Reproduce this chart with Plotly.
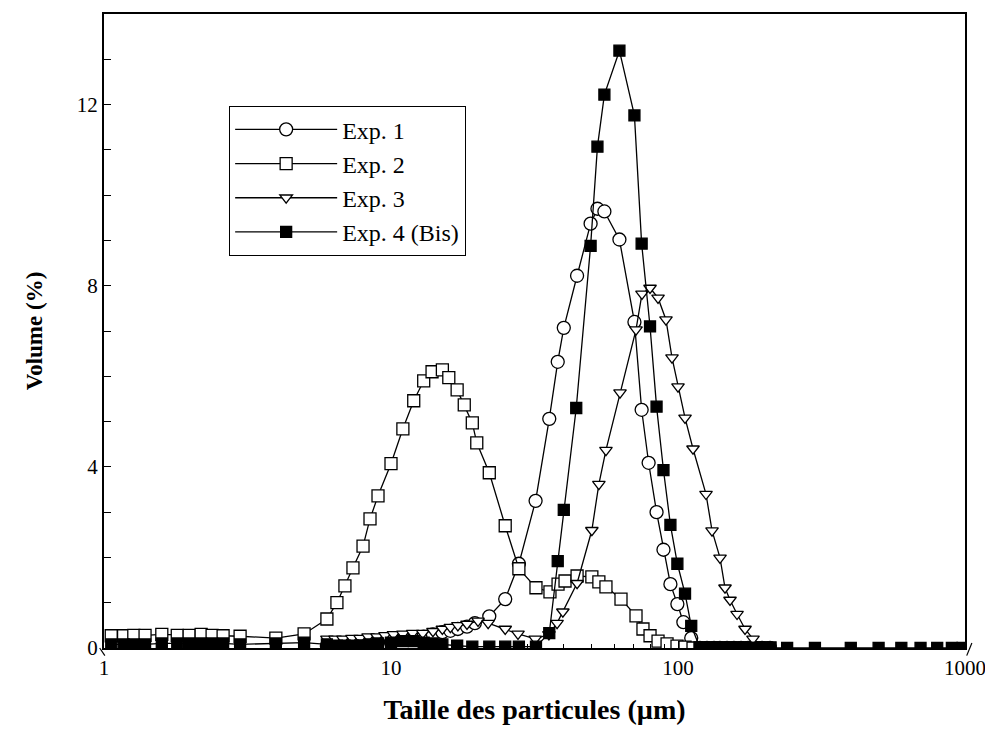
import plotly.graph_objects as go

# particle size (um) and volume (%)
exp1_x = [5.98, 6.48, 6.91, 7.37, 7.99, 8.45, 9.01, 10.0, 11.0, 12.0, 13.0, 14.0, 15.1, 16.1, 17.1,
          18.4, 19.6, 22.0, 25.0, 27.9, 31.9, 35.6, 38.1, 40.0, 44.5, 49.6, 52.4, 55.4, 62.5,
          70.5, 74.7, 79.0, 84.2, 89.0, 94.1, 99.5, 104.4, 111.2, 119.3, 126.2, 133.5, 140.0,
          148.2, 156.7, 165.8, 175.4, 185.5, 196.2, 209.3]
exp1_y = [0.05, 0.05, 0.07, 0.08, 0.10, 0.10, 0.12, 0.15, 0.18, 0.22, 0.25, 0.30, 0.35, 0.38, 0.42,
          0.47, 0.55, 0.70, 1.08, 1.86, 3.25, 5.06, 6.32, 7.07, 8.22, 9.37, 9.70, 9.64, 9.02,
          7.20, 5.26, 4.09, 3.00, 2.17, 1.41, 0.97, 0.57, 0.22, 0, 0, 0, 0,
          0, 0, 0, 0, 0, 0, 0]

exp2_x = [1.06, 1.17, 1.27, 1.39, 1.59, 1.80, 1.98, 2.18, 2.38, 2.60, 2.98, 3.97, 4.98, 5.98,
          6.48, 6.91, 7.37, 7.99, 8.45, 9.01, 10.0, 11.0, 12.0, 13.0, 13.9, 15.1, 15.9, 17.0,
          18.0, 19.2, 19.9, 22.0, 25.0, 27.9, 32.0, 35.8, 38.2, 40.4, 44.5, 50.1, 53.0, 56.1,
          63.3, 71.4, 75.5, 79.9, 85.2, 91.6, 99.2, 105.8, 112.8, 119.3, 126.2, 133.5, 140.0,
          148.2, 156.7, 165.8, 175.4, 185.5, 196.2, 209.3]
exp2_y = [0.27, 0.27, 0.28, 0.28, 0.30, 0.28, 0.28, 0.30, 0.28, 0.27, 0.26, 0.22, 0.31, 0.64,
          1.00, 1.37, 1.77, 2.25, 2.85, 3.36, 4.07, 4.84, 5.46, 5.90, 6.10, 6.14, 5.97, 5.70,
          5.37, 4.97, 4.53, 3.87, 2.70, 1.75, 1.33, 1.24, 1.41, 1.48, 1.59, 1.57, 1.46, 1.35,
          1.08, 0.71, 0.42, 0.27, 0.15, 0.09, 0.04, 0.02, 0, 0, 0, 0, 0,
          0, 0, 0, 0, 0, 0, 0]

exp3_x = [5.98, 6.38, 6.80, 7.31, 7.80, 8.32, 8.94, 9.53, 10.2, 11.0, 11.9, 12.9, 14.0, 15.1,
          16.1, 17.1, 18.4, 20.1, 21.8, 25.0, 27.7, 31.8, 35.5, 37.9, 39.7, 44.5, 50.1, 53.0,
          56.1, 62.8, 71.4, 74.9, 79.9, 85.2, 90.8, 95.3, 100.0, 105.8, 112.8, 125.2, 131.4,
          140.1, 145.8, 151.8, 160.6, 171.2, 182.5, 196.2, 209.3]
exp3_y = [0.20, 0.20, 0.20, 0.22, 0.22, 0.25, 0.25, 0.28, 0.30, 0.31, 0.33, 0.33, 0.37, 0.42,
          0.46, 0.50, 0.53, 0.60, 0.55, 0.42, 0.31, 0.20, 0.30, 0.55, 0.80, 1.43, 2.60, 3.62,
          4.37, 5.64, 7.03, 7.82, 7.95, 7.73, 7.25, 6.41, 5.77, 5.08, 4.40, 3.40, 2.59,
          1.99, 1.33, 1.06, 0.75, 0.42, 0.20, 0, 0]

exp4_x = [1.06, 1.17, 1.27, 1.39, 1.59, 1.80, 1.98, 2.18, 2.38, 2.60, 2.98, 3.97, 4.98, 5.98,
          6.48, 6.91, 7.37, 7.99, 8.45, 9.01, 10.0, 11.0, 12.0, 13.0, 13.9, 15.1, 17.0, 19.2,
          22.0, 25.0, 27.9, 32.0, 35.6, 38.1, 40.0, 44.2, 49.6, 52.4, 55.4, 62.5, 70.5, 74.7,
          79.9, 84.2, 89.0, 94.1, 99.5, 105.8, 111.2, 119.3, 126.2, 133.5, 140.0, 148.2, 156.7,
          165.8, 175.4, 185.5, 196.2, 209.3, 240, 300, 400, 500, 600, 700, 800, 900, 980]
exp4_y = [0.08, 0.08, 0.08, 0.08, 0.10, 0.10, 0.10, 0.10, 0.10, 0.10, 0.08, 0.10, 0.12, 0.08,
          0.05, 0.05, 0.05, 0.06, 0.08, 0.10, 0.12, 0.15, 0.15, 0.12, 0.10, 0.08, 0.05, 0.03,
          0.03, 0.03, 0.03, 0.03, 0.33, 1.92, 3.05, 5.30, 8.88, 11.07, 12.22, 13.19, 11.76, 8.93,
          7.10, 5.33, 3.93, 2.72, 1.86, 1.20, 0.49, 0, 0, 0, 0, 0, 0,
          0, 0, 0, 0, 0, 0, 0, 0, 0, 0, 0, 0, 0, 0]

names = ["Exp. 1", "Exp. 2", "Exp. 3", "Exp. 4 (Bis)"]
xtick_vals = [1, 10, 100, 1000]
ytick_vals = [0, 4, 8, 12]

FONT = "Liberation Serif"

series = [
    (exp1_x, exp1_y, "circle", "white", 13),
    (exp2_x, exp2_y, "square", "white", 12),
    (exp3_x, exp3_y, "triangle-down", "white", 11),
    (exp4_x, exp4_y, "square", "black", 11),
]

fig = go.Figure()
for (xs, ys, sym, fill, sz), name in zip(series, names):
    fig.add_trace(go.Scatter(
        x=xs, y=ys, name=name, mode="lines+markers",
        line=dict(color="black", width=1.3),
        marker=dict(symbol=sym, size=sz, color=fill,
                    line=dict(color="black", width=1.3)),
    ))

fig.update_xaxes(
    type="log", range=[0, 3],
    tickvals=xtick_vals, ticktext=[str(v) for v in xtick_vals],
    ticks="inside", ticklen=7, tickwidth=1.3, tickcolor="black",
    minor=dict(ticks="inside", ticklen=4, tickwidth=1, tickcolor="black", dtick="D1"),
    showline=True, linecolor="black", linewidth=2, mirror=True,
    showgrid=False, zeroline=False,
    tickfont=dict(family=FONT, size=21, color="black"),
    title=dict(text="<b>Taille des particules (µm)</b>", standoff=20,
               font=dict(family=FONT, size=28, color="black")),
)
fig.update_yaxes(
    range=[0, 14], tickvals=ytick_vals,
    ticks="inside", ticklen=7, tickwidth=1.3, tickcolor="black",
    minor=dict(ticks="inside", ticklen=7, tickwidth=1, tickcolor="black", dtick=1),
    showline=True, linecolor="black", linewidth=2, mirror=True,
    showgrid=False, zeroline=False,
    tickfont=dict(family=FONT, size=21, color="black"),
    title=dict(text="<b>Volume (%)</b>", standoff=28,
               font=dict(family=FONT, size=23, color="black")),
)

# small axis-break marks at both ends of the x axis
fig.add_shape(type="line", xref="paper", yref="paper", x0=-0.005, y0=0.0, x1=0.001, y1=-0.012,
              line=dict(color="black", width=1.2))
fig.add_shape(type="line", xref="paper", yref="paper", x0=1.002, y0=-0.012, x1=1.008, y1=0.008,
              line=dict(color="black", width=1.2))

# page body adds an 8px offset, so margins are shifted to keep the plot area in place
fig.update_layout(
    width=985, height=732,
    margin=dict(l=96, r=28, t=4, b=92),
    plot_bgcolor="white", paper_bgcolor="white",
    font=dict(family=FONT, color="black"),
    legend=dict(
        x=0.145, y=0.855, xanchor="left", yanchor="top",
        bgcolor="white", bordercolor="black", borderwidth=1.3,
        font=dict(family=FONT, size=24, color="black"),
        itemwidth=102, tracegroupgap=0,
    ),
)

fig.write_html("out.html")
